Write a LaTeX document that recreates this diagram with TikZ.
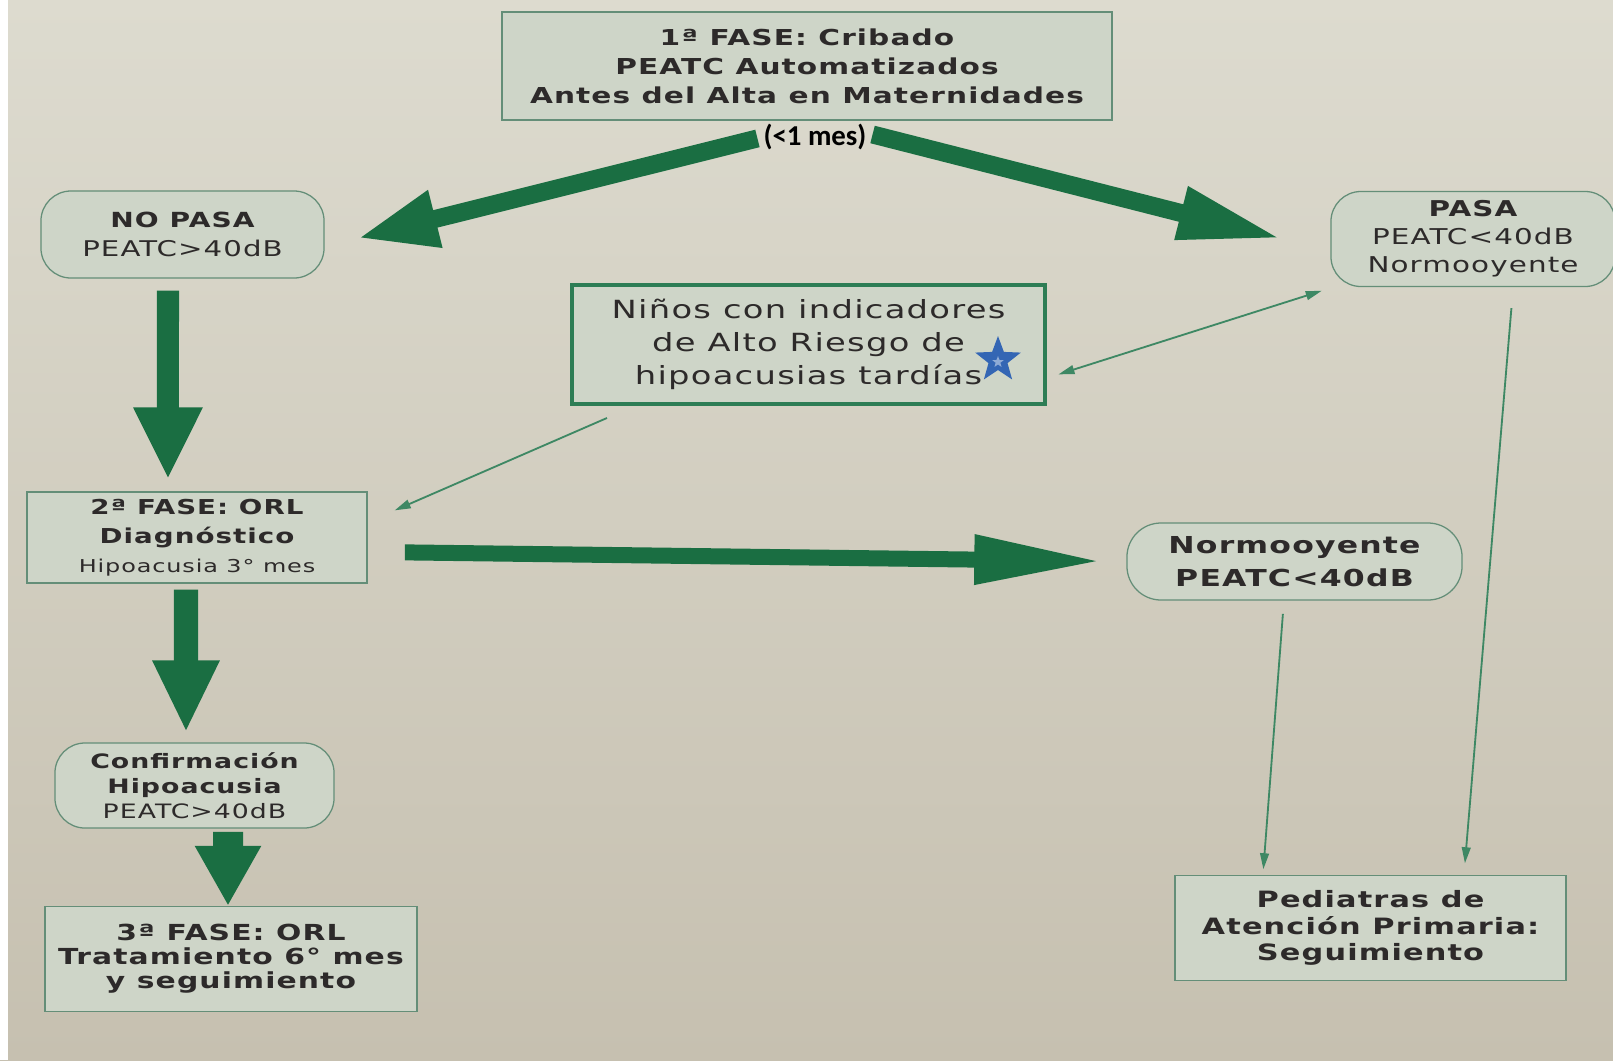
\documentclass[tikz,border=0pt]{standalone}
\usepackage{fontspec}
\setmainfont{DejaVu Sans}[FakeStretch=1.35,LetterSpace=5]
\newfontfamily\calfont{Carlito}
\usetikzlibrary{arrows.meta,shapes.geometric}
\definecolor{fondoA}{RGB}{221,219,207}
\definecolor{fondoB}{RGB}{198,192,176}
\definecolor{relleno}{RGB}{206,213,200}
\definecolor{borde}{RGB}{100,142,120}
\definecolor{verde}{RGB}{26,110,66}
\definecolor{verdeborde}{RGB}{45,125,85}
\definecolor{verdeclaro}{RGB}{62,136,100}
\definecolor{texto}{RGB}{45,42,42}
\definecolor{azul}{RGB}{52,102,180}
\newcommand{\fs}[2]{\fontsize{#1}{#2}\selectfont}

\begin{document}
\begin{tikzpicture}[x=0.025cm,y=-0.025cm,>=Triangle,
    caja/.style={draw=borde,fill=relleno,line width=0.9pt,align=center,text=texto,inner sep=0pt},
    redonda/.style={caja,rounded corners=0.75cm},
    gorda/.style={draw=verde,line cap=butt},
    fina/.style={draw=verdeclaro,line width=1.3pt,-{Triangle[length=0.4cm,width=0.22cm]}}]

    % fondo
    \fill[top color=fondoA,bottom color=fondoB] (0,0) rectangle (1613,1060);
    \fill[white] (0,0) rectangle (8,1060);
    \useasboundingbox (0,0) rectangle (1613,1060);

    % cajas
    \node[caja,minimum width=15.25cm,minimum height=2.7cm,font=\bfseries\fs{15.6}{20.6}] (fase1) at (807,66)
        {1ª FASE: Cribado\\PEATC Automatizados\\Antes del Alta en Maternidades};
    \node[text=black,inner sep=0pt,font=\calfont\bfseries\fs{20.5}{22}] (mes) at (815,137) {(<1 mes)};
    \node[redonda,minimum width=7.075cm,minimum height=2.175cm,font=\fs{15.4}{20.6}] (nopasa) at (182.5,234.5)
        {\fs{14.8}{20.6}\bfseries NO PASA\\PEATC>40dB};
    \node[redonda,minimum width=7.1cm,minimum height=2.375cm,font=\fs{15.5}{20}] (pasa) at (1473,239)
        {\bfseries PASA\\PEATC<40dB\\Normooyente};
    \node[caja,draw=verdeborde,line width=2.8pt,minimum width=11.825cm,minimum height=2.975cm,font=\fs{17.8}{23.5}] (ninos) at (808.5,344.5)
        {Niños con indicadores\\de Alto Riesgo de\\hipoacusias tardías\hspace{0.6cm}};
    \node[star,star points=5,star point ratio=2.4,fill=azul,minimum size=1.2cm,inner sep=0pt] (estrella) at (998,360) {};
    \node[star,star points=5,star point ratio=2.4,fill=azul!55!white,minimum size=0.3cm,inner sep=0pt] at (998,362) {};
    \node[caja,minimum width=8.5cm,minimum height=2.275cm,font=\fs{14.6}{20.8}] (fase2) at (197,537.5)
        {\bfseries 2ª FASE: ORL\\\bfseries Diagnóstico\\\fs{12.6}{16}Hipoacusia 3° mes};
    \node[redonda,rounded corners=0.85cm,minimum width=8.375cm,minimum height=1.925cm,font=\bfseries\fs{16.6}{23.5}] (normo) at (1294.5,561.5)
        {Normooyente\\PEATC<40dB};
    \node[redonda,minimum width=6.975cm,minimum height=2.125cm,font=\fs{14.1}{17.6}] (confirm) at (194.5,785.5)
        {\bfseries Confirmación\\\bfseries Hipoacusia\\PEATC>40dB};
    \node[caja,minimum width=9.3cm,minimum height=2.625cm,font=\bfseries\fs{15.7}{17}] (fase3) at (231,959)
        {3ª FASE: ORL\\Tratamiento 6° mes\\y seguimiento};
    \node[caja,minimum width=9.775cm,minimum height=2.625cm,font=\bfseries\fs{16}{19}] (pediatras) at (1370.5,928)
        {Pediatras de\\Atención Primaria:\\Seguimiento};

    % flechas gruesas
    \draw[gorda,line width=0.45cm,-{Triangle[length=2cm,width=1.35cm]},shorten <=0.15cm,shorten >=0.85cm] (mes.west) -- ([yshift=-0.3cm]nopasa.east);
    \draw[gorda,line width=0.45cm,-{Triangle[length=2.6cm,width=1.25cm]},shorten <=0.15cm,shorten >=1.25cm] ([yshift=0.1cm]mes.east) -- ([yshift=-0.3cm]pasa.west);
    \draw[gorda,line width=0.55cm,-{Triangle[length=1.8cm,width=1.6cm]},shorten <=0.3cm,shorten >=0.3cm]
        ([xshift=-0.3625cm]nopasa.south) -- ([xshift=-0.725cm]fase2.north);
    \draw[gorda,line width=0.6cm,-{Triangle[length=1.8cm,width=1.55cm]},shorten <=0.15cm,shorten >=0.25cm]
        ([xshift=-0.275cm]fase2.south) -- ([xshift=-0.2125cm]confirm.north);
    \draw[gorda,line width=0.75cm,-{Triangle[length=1.5cm,width=1.55cm]},shorten <=0.08cm]
        ([xshift=0.8375cm]confirm.south) -- ([xshift=-0.075cm]fase3.north);
    \draw[gorda,line width=0.4cm,-{Triangle[length=3.2cm,width=1.15cm]},shorten <=0.93cm,shorten >=0.6cm]
        ([yshift=-0.36cm]fase2.east) -- (normo.west);

    % flechas finas
    \draw[fina,{Triangle[length=0.4cm,width=0.22cm]}-{Triangle[length=0.4cm,width=0.22cm]},shorten <=0.3cm,shorten >=0.3cm]
        (ninos.-8.5) -- (pasa.199);
    \draw[fina] ([xshift=0.925cm,yshift=-0.3cm]ninos.south west) -- ([xshift=0.675cm,yshift=-0.475cm]fase2.north east);
    \draw[fina] ([xshift=-0.29cm,yshift=-0.33cm]normo.south) -- ([xshift=2.225cm,yshift=0.14cm]pediatras.north west);
    \draw[fina] ([xshift=0.96cm,yshift=-0.525cm]pasa.south) -- ([xshift=2.36cm,yshift=0.29cm]pediatras.north);
\end{tikzpicture}
\end{document}
